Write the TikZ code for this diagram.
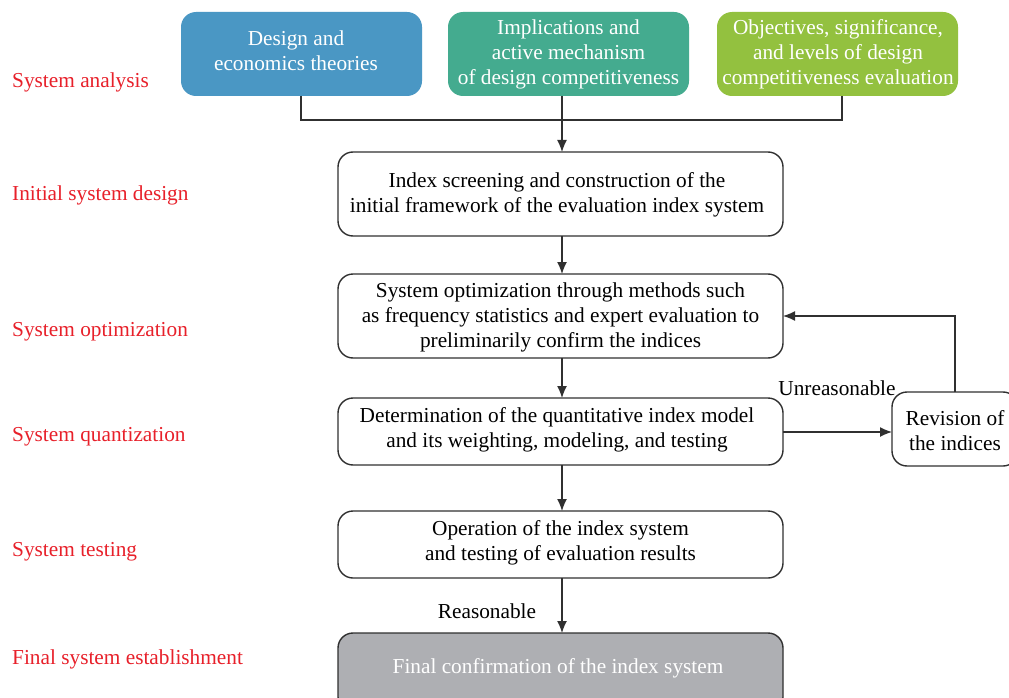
\documentclass[tikz,border=0pt]{standalone}
\usepackage{fontspec}
\setmainfont{Liberation Serif}
\usetikzlibrary{arrows.meta}
\definecolor{cblue}{HTML}{4A97C4}
\definecolor{cteal}{HTML}{44AB8F}
\definecolor{cgreen}{HTML}{93C13F}
\definecolor{cgray}{HTML}{AEAFB3}
\definecolor{cred}{HTML}{E8202A}
\definecolor{cline}{HTML}{303030}
\tikzset{
  topbox/.style={rounded corners=15pt, text=white, align=center, inner sep=0pt},
  stepbox/.style={draw=cline, line width=1.4pt, rounded corners=15pt, fill=white, align=center},
  phase/.style={text=cred, anchor=west, inner sep=0pt},
  conn/.style={draw=cline, line width=1.4pt},
  arr/.style={conn, -{Latex[length=12pt,width=10pt]}},
  lbl/.style={inner sep=0pt}
}
\begin{document}
\begin{tikzpicture}[x=1pt,y=-1pt,font=\fontsize{21.3}{25}\selectfont]
\clip (0,0) rectangle (1009,698);
\fill[white] (0,0) rectangle (1009,698);

% phase labels
\node[phase] (p1) at (12,82) {System analysis};
\node[phase] (p2) at (12,195) {Initial system design};
\node[phase] (p3) at (12,332) {System optimization};
\node[phase] (p4) at (12,437) {System quantization};
\node[phase] (p5) at (12,552) {System testing};
\node[phase] (p6) at (12,659) {Final system establishment};

% theory boxes
\fill[cblue, rounded corners=15pt] (181,12) rectangle (422,96);
\fill[cteal, rounded corners=15pt] (448,12) rectangle (689,96);
\fill[cgreen, rounded corners=15pt] (717,12) rectangle (958,96);
\node[topbox] (t1) at (296,51) {Design and\\economics theories};
\node[topbox] (t2) at (568.5,54) {Implications and\\active mechanism\\of design competitiveness};
\node[topbox] (t3) at (838,54) {Objectives, significance,\\and levels of design\\competitiveness evaluation};

% main steps
\draw[stepbox] (338,152) rectangle (783,236);
\node[align=center] (s1) at (557,195) {Index screening and construction of the\\initial framework of the evaluation index system};
\draw[stepbox] (338,274) rectangle (783,358);
\node[align=center] (s2) at (560.5,317) {System optimization through methods such\\as frequency statistics and expert evaluation to\\preliminarily confirm the indices};
\draw[stepbox] (338,398) rectangle (783,465);
\node[align=center] (s3) at (557,430) {Determination of the quantitative index model\\and its weighting, modeling, and testing};
\draw[stepbox] (338,511) rectangle (783,578);
\node[align=center] (s4) at (560.5,543) {Operation of the index system\\and testing of evaluation results};
\draw[stepbox, fill=cgray] (338,633) rectangle (783,712);
\node[text=white] (s5) at (558,668) {Final confirmation of the index system};
\draw[stepbox] (892,392) rectangle (1018,466);
\node[align=center] (rv) at (955,431) {Revision of\\the indices};

% junction and connectors
\coordinate (j0) at (562,120);
\coordinate (j1) at (301,96);
\coordinate (j2) at (562,96);
\coordinate (j3) at (842,96);
\draw[conn] (j1) -- (301,120) -- (842,120) -- (j3);
\draw[conn] (j2) -- (j0);
\draw[arr] (j0) -- (562,152);
\draw[arr] (562,236) -- (562,274);
\draw[arr] (562,358) -- (562,398);
\draw[arr] (562,465) -- (562,511);
\draw[arr] (562,578) -- (562,633);
\draw[arr] (783,432) -- (892,432);
\draw[arr] (955,392) -- (955,316) -- (783,316);

\node[lbl] (l1) at (487,611) {Reasonable};
\node[lbl] (l2) at (837,388) {Unreasonable};
\end{tikzpicture}
\end{document}
